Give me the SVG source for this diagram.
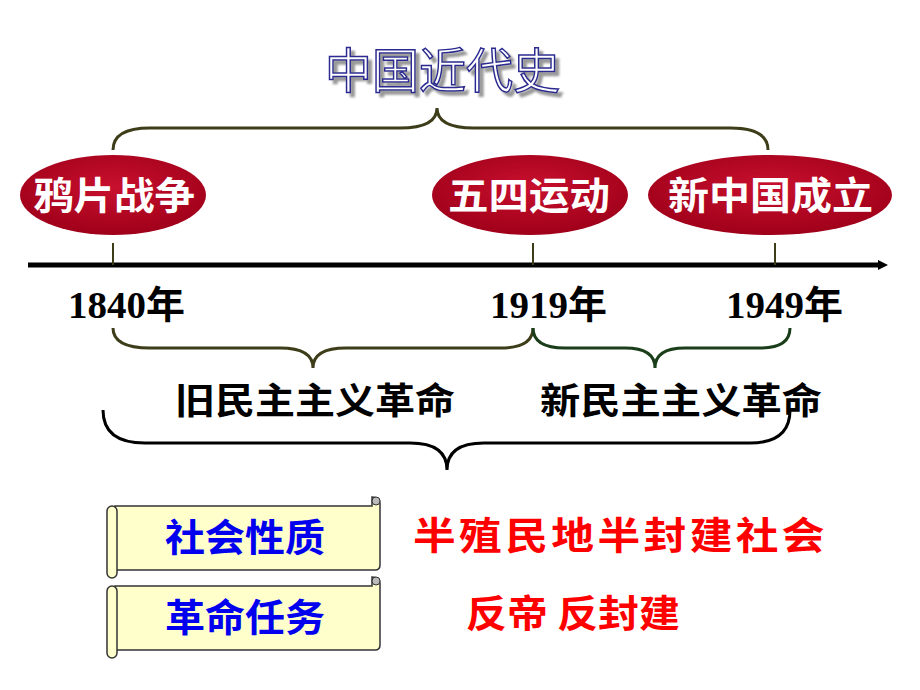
<svg xmlns="http://www.w3.org/2000/svg" width="920" height="690" viewBox="0 0 920 690">
<style>
.ev{font-family:"Noto Sans CJK SC",sans-serif;font-weight:bold;font-size:38px;fill:#fff}
.yr{font-family:"Liberation Serif","Noto Sans CJK SC",serif;font-weight:bold;font-size:38px;fill:#000}
.lb{font-family:"Noto Sans CJK SC",sans-serif;font-weight:bold;font-size:36px;fill:#000}
.sc{font-family:"Noto Sans CJK SC",sans-serif;font-weight:bold;font-size:38px;fill:#0000ee}
.rd{font-family:"Noto Sans CJK SC",sans-serif;font-weight:bold;font-size:38px;fill:#ff0000}
.br{fill:none;stroke-width:3}
.scroll{fill:#ffffcc;stroke:#333;stroke-width:1.5}
</style>
<defs>
<radialGradient id="g" cx="50%" cy="40%" r="60%"><stop offset="0" stop-color="#c8102e"/><stop offset="1" stop-color="#a0001a"/></radialGradient>
<marker id="ar" markerWidth="10" markerHeight="10" refX="2" refY="5" orient="auto" markerUnits="userSpaceOnUse"><path d="M0,0 L10,5 L0,10z" fill="#000"/></marker>
<filter id="sh" x="-10%" y="-20%" width="130%" height="150%"><feDropShadow dx="4" dy="4" stdDeviation="1" flood-color="#999"/></filter>
</defs>
<g id="title">
<text x="325" y="88" textLength="235" lengthAdjust="spacingAndGlyphs" font-family="Noto Sans CJK SC,sans-serif" font-size="48" fill="#fff" stroke="#2a2a90" stroke-width="1.5" filter="url(#sh)">中国近代史</text>
</g>
<g id="connectors">
<path class="br" stroke="#3d3d1a" d="M113,150 Q113,128 150,128 L400,128 Q437,128 437,108 Q437,128 474,128 L730,128 Q768,128 768,150"/>
<line x1="28" y1="265" x2="880" y2="265" stroke="#000" stroke-width="5" marker-end="url(#ar)"/>
<g stroke="#3d3d1a" stroke-width="2"><line x1="113" y1="243" x2="113" y2="265"/><line x1="533" y1="243" x2="533" y2="265"/><line x1="775" y1="243" x2="775" y2="265"/></g>
<path class="br" stroke="#3d3d1a" d="M113,328 Q113,348 150,348 L280,348 Q313,348 313,368 Q313,348 346,348 L500,348 Q533,348 533,328"/>
<path class="br" stroke="#1a3d1a" d="M533,328 Q533,348 565,348 L625,348 Q655,348 655,368 Q655,348 685,348 L760,348 Q790,348 790,328"/>
<path class="br" stroke="#000" stroke-width="2" d="M103,410 Q103,443 145,443 L410,443 Q447,443 447,470 Q447,443 484,443 L750,443 Q790,443 790,410"/>
</g>
<g id="e1"><ellipse cx="113" cy="195" rx="93" ry="40" fill="url(#g)"/><text class="ev" x="33" y="209" textLength="162" lengthAdjust="spacingAndGlyphs">鸦片战争</text></g>
<g id="e2"><ellipse cx="530" cy="195" rx="98" ry="40" fill="url(#g)"/><text class="ev" x="448" y="209" textLength="162" lengthAdjust="spacingAndGlyphs">五四运动</text></g>
<g id="e3"><ellipse cx="770" cy="195" rx="122" ry="40" fill="url(#g)"/><text class="ev" x="668" y="209" textLength="205" lengthAdjust="spacingAndGlyphs">新中国成立</text></g>
<g id="years"><text class="yr" x="68" y="318" textLength="117" lengthAdjust="spacingAndGlyphs">1840年</text><text class="yr" x="490" y="318" textLength="117" lengthAdjust="spacingAndGlyphs">1919年</text><text class="yr" x="726" y="318" textLength="117" lengthAdjust="spacingAndGlyphs">1949年</text></g>
<g id="labels"><text class="lb" x="175" y="414" textLength="280" lengthAdjust="spacingAndGlyphs">旧民主主义革命</text><text class="lb" x="540" y="414" textLength="282" lengthAdjust="spacingAndGlyphs">新民主主义革命</text></g>
<g id="s1">
<path class="scroll" d="M115,506 L372,506 L372,497 Q380,497 380,503 L380,565 Q380,570 375,570 L115,570z"/>
<rect class="scroll" x="107" y="506" width="10" height="72" rx="5"/>
<circle cx="376" cy="501" r="4" fill="#bbb" stroke="#333"/>
<text class="sc" x="165" y="551" textLength="160" lengthAdjust="spacingAndGlyphs">社会性质</text></g>
<g id="s2">
<path class="scroll" d="M115,586 L372,586 L372,577 Q380,577 380,583 L380,645 Q380,650 375,650 L115,650z"/>
<rect class="scroll" x="107" y="586" width="10" height="72" rx="5"/>
<circle cx="376" cy="581" r="4" fill="#bbb" stroke="#333"/>
<text class="sc" x="165" y="631" textLength="160" lengthAdjust="spacingAndGlyphs">革命任务</text></g>
<g id="red"><text class="rd" x="413" y="549" font-size="40" textLength="415" lengthAdjust="spacingAndGlyphs" letter-spacing="3">半殖民地半封建社会</text><text class="rd" x="466" y="627" textLength="214" lengthAdjust="spacingAndGlyphs">反帝 反封建</text></g>
</svg>
